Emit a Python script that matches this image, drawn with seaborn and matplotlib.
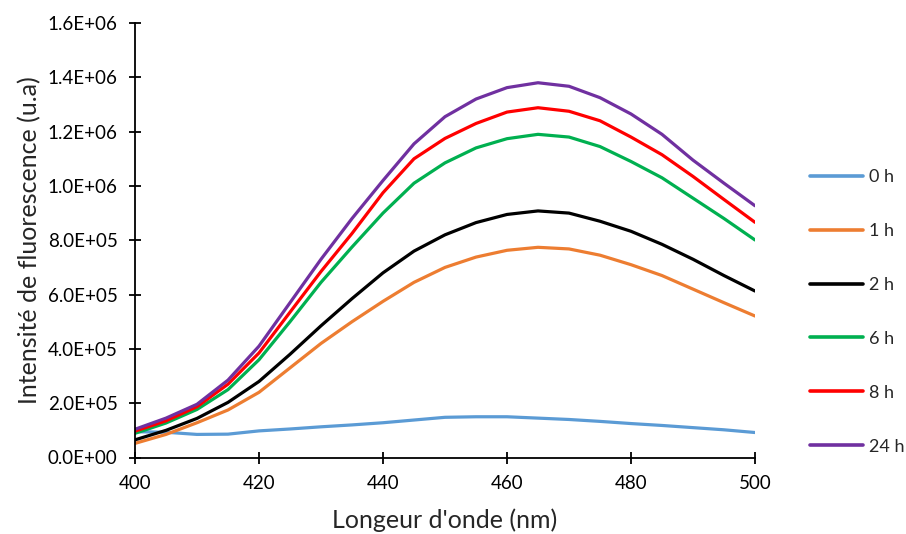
import pandas as pd
import matplotlib
matplotlib.use('Agg')
import matplotlib.pyplot as plt
import seaborn as sns
from matplotlib.ticker import FuncFormatter

# données (pas de 5 nm)
wavelength = [400, 405, 410, 415, 420, 425, 430, 435, 440, 445, 450,
              455, 460, 465, 470, 475, 480, 485, 490, 495, 500]

h0 = [9.5e4, 9.3e4, 8.5e4, 8.6e4, 9.8e4, 1.05e5, 1.13e5, 1.2e5, 1.28e5, 1.38e5, 1.48e5,
      1.5e5, 1.5e5, 1.45e5, 1.4e5, 1.33e5, 1.25e5, 1.18e5, 1.1e5, 1.02e5, 9.2e4]
h1 = [5.2e4, 8.5e4, 1.28e5, 1.75e5, 2.4e5, 3.3e5, 4.2e5, 5.0e5, 5.75e5, 6.45e5, 7.0e5,
      7.38e5, 7.63e5, 7.74e5, 7.68e5, 7.45e5, 7.1e5, 6.7e5, 6.2e5, 5.7e5, 5.21e5]
h2 = [6.5e4, 1.0e5, 1.44e5, 2.03e5, 2.8e5, 3.8e5, 4.85e5, 5.85e5, 6.8e5, 7.6e5, 8.2e5,
      8.65e5, 8.95e5, 9.08e5, 9.0e5, 8.7e5, 8.33e5, 7.85e5, 7.3e5, 6.7e5, 6.13e5]
h6 = [8.9e4, 1.27e5, 1.77e5, 2.5e5, 3.6e5, 5.0e5, 6.45e5, 7.75e5, 9.0e5, 1.01e6, 1.085e6,
      1.14e6, 1.174e6, 1.19e6, 1.18e6, 1.145e6, 1.09e6, 1.03e6, 9.55e5, 8.8e5, 8.01e5]
h8 = [9.7e4, 1.35e5, 1.87e5, 2.7e5, 3.85e5, 5.35e5, 6.85e5, 8.25e5, 9.75e5, 1.1e6, 1.175e6,
      1.23e6, 1.272e6, 1.288e6, 1.275e6, 1.24e6, 1.18e6, 1.115e6, 1.035e6, 9.5e5, 8.66e5]
h24 = [1.04e5, 1.45e5, 1.96e5, 2.85e5, 4.1e5, 5.7e5, 7.3e5, 8.8e5, 1.02e6, 1.155e6, 1.255e6,
       1.32e6, 1.362e6, 1.38e6, 1.367e6, 1.325e6, 1.265e6, 1.19e6, 1.095e6, 1.01e6, 9.27e5]

labels = ['0 h', '1 h', '2 h', '6 h', '8 h', '24 h']
series = [h0, h1, h2, h6, h8, h24]
colors = ['#5B9BD5', '#ED7D31', '#000000', '#00B050', '#FF0000', '#7030A0']

# format long pour seaborn
rows = []
for lab, vals in zip(labels, series):
    for w, v in zip(wavelength, vals):
        rows.append({'nm': w, 'I': v, 'temps': lab})
df = pd.DataFrame(rows)

sns.set_style('white')
plt.rcParams['font.family'] = ['Lato', 'DejaVu Sans']

fig = plt.figure(figsize=(9.06, 5.34), dpi=100)
ax = fig.add_axes([135/906, 1 - 457.5/534, 620/906, 434.5/534])

sns.lineplot(data=df, x='nm', y='I', hue='temps', hue_order=labels,
             palette=dict(zip(labels, colors)), linewidth=2.3, ax=ax, legend=False)

ax.set_xlim(400, 500)
ax.set_ylim(0, 1.6e6)
ax.set_xticks(range(400, 501, 20))
ax.set_yticks([i * 2e5 for i in range(9)])
ax.yaxis.set_major_formatter(FuncFormatter(lambda v, p: f'{v:.1E}'))

for s in ['top', 'right']:
    ax.spines[s].set_visible(False)
for s in ['left', 'bottom']:
    ax.spines[s].set_color('black')
    ax.spines[s].set_linewidth(1.3)
ax.tick_params(bottom=True, left=True, direction='inout', length=9, width=1.3,
               labelsize=13.5, colors='black')
ax.tick_params(axis='y', pad=8)
ax.tick_params(axis='x', pad=8)

ax.set_xlabel("Longeur d'onde (nm)", fontsize=18, labelpad=12)
ax.set_ylabel('Intensité de fluorescence (u.a)', fontsize=18, labelpad=5)

handles = [plt.Line2D([], [], color=c, lw=2.6) for c in colors]
fig.legend(handles, labels, loc='center left', bbox_to_anchor=(794/906, 0.416),
           frameon=False, fontsize=13, handlelength=2.9, handletextpad=0.33,
           labelspacing=2.1)

plt.savefig('out.png', dpi=100)
